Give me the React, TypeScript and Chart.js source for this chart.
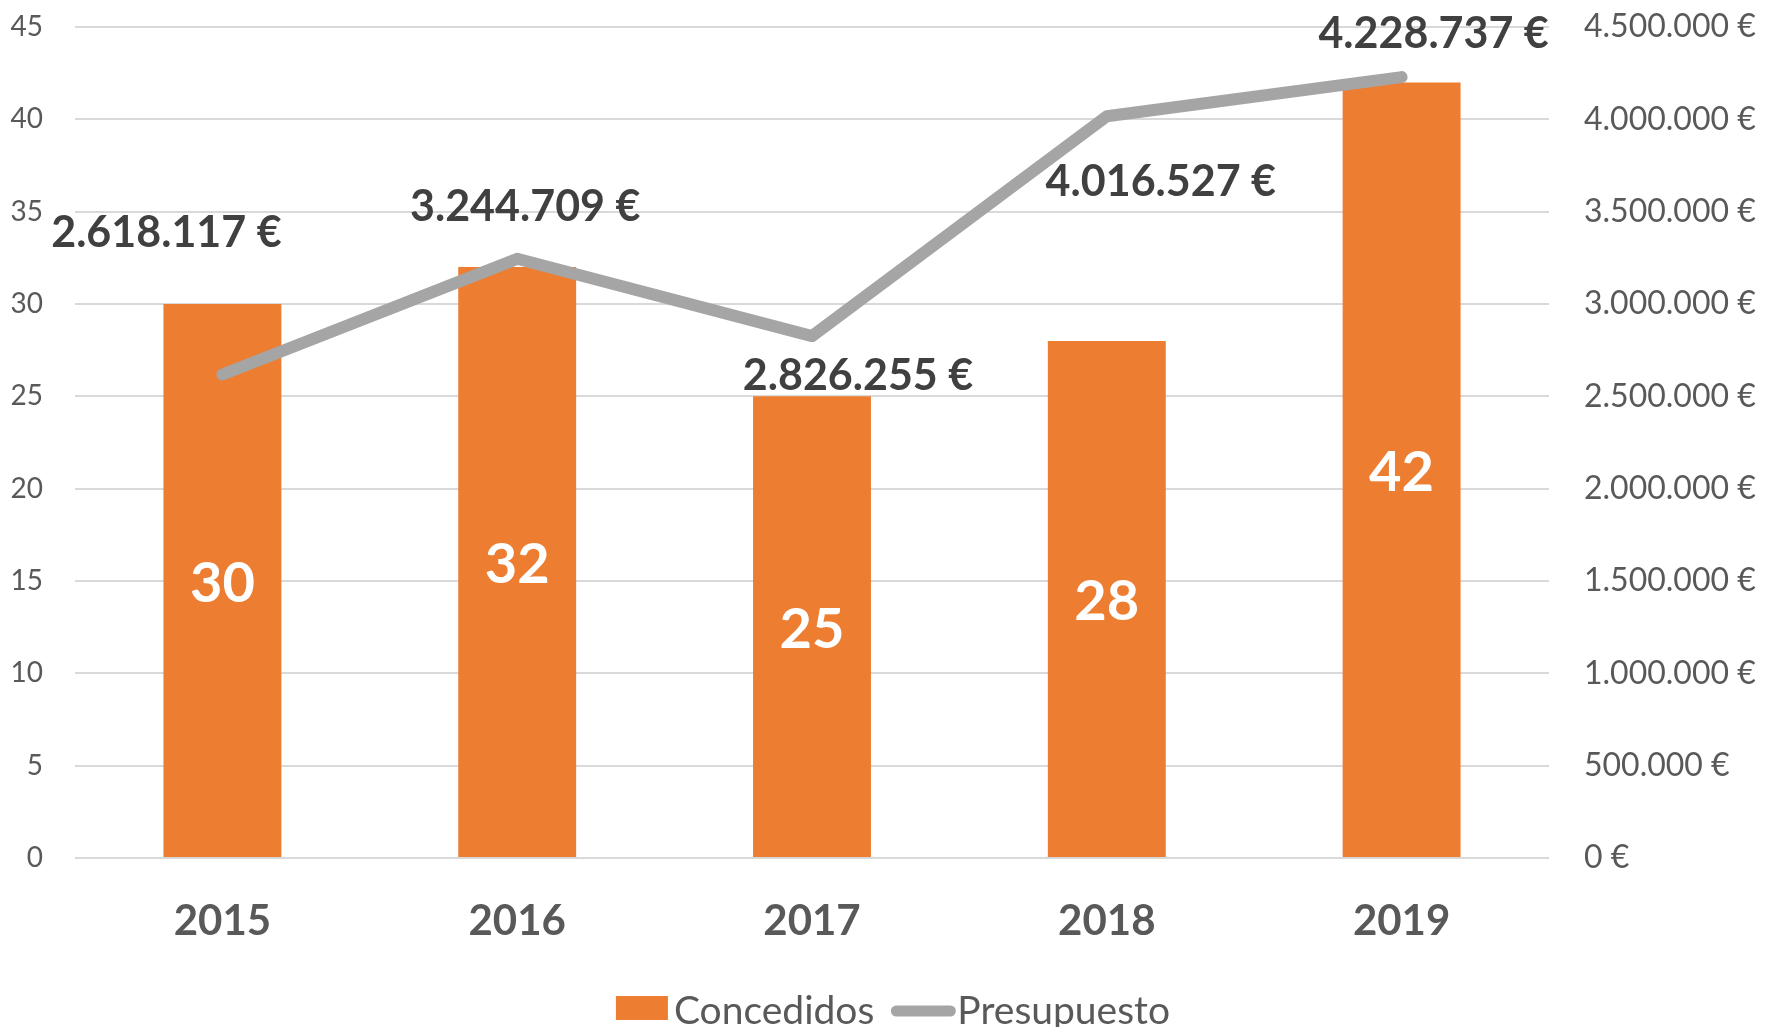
import React, { useEffect, useRef } from "react";
import { Chart, registerables } from "chart.js";

Chart.register(...registerables);

// ---- data ----
const years: string[] = ["2015", "2016", "2017", "2018", "2019"];
const concedidos: number[] = [30, 32, 25, 28, 42];
const presupuesto: number[] = [2618117, 3244709, 2826255, 4016527, 4228737];
const seriesNames: string[] = ["Concedidos", "Presupuesto"];
const leftAxisMax = 45;
const leftAxisStep = 5;
const rightAxisMax = 4500000;
const rightAxisStep = 500000;

// ---- styling ----
const ORANGE = "#ED7D31";
const GRAY = "#A5A5A5";
const TICK_COLOR = "#595959";
const LABEL_COLOR = "#404040";
const GRID_COLOR = "#D9D9D9";
const FONT = "Lato, 'Open Sans', sans-serif";
// label offsets (px) from each line point to the centre of its label
const lineLabelOffsets: [number, number][] = [
  [-56, -143],
  [8, -53],
  [46, 38],
  [54, 64],
  [32, -45],
];

const euro = (n: number): string =>
  Math.round(n).toString().replace(/\B(?=(\d{3})+(?!\d))/g, ".") + " €";

const labelsPlugin = {
  id: "valueLabels",
  afterDatasetsDraw(chart: any) {
    const ctx = chart.ctx as CanvasRenderingContext2D;
    ctx.save();
    // bar labels
    const barMeta = chart.getDatasetMeta(1);
    ctx.font = `bold 56px ${FONT}`;
    ctx.fillStyle = "#FFFFFF";
    ctx.textAlign = "center";
    ctx.textBaseline = "alphabetic";
    barMeta.data.forEach((el: any, i: number) => {
      const cy = (el.y + el.base) / 2;
      ctx.fillText(String(concedidos[i]), el.x, cy + 0.36 * 56 + 1);
    });
    // line labels
    const lineMeta = chart.getDatasetMeta(0);
    ctx.font = `bold 43px ${FONT}`;
    ctx.fillStyle = LABEL_COLOR;
    lineMeta.data.forEach((el: any, i: number) => {
      const [dx, dy] = lineLabelOffsets[i];
      ctx.fillText(euro(presupuesto[i]), el.x + dx, el.y + dy + 0.36 * 43);
    });
    ctx.restore();
  },
};

const legendPlugin = {
  id: "customLegend",
  afterDraw(chart: any) {
    const ctx = chart.ctx as CanvasRenderingContext2D;
    ctx.save();
    const fs = 39;
    ctx.font = `${fs}px ${FONT}`;
    const w1 = ctx.measureText(seriesNames[0]).width;
    const w2 = ctx.measureText(seriesNames[1]).width;
    const boxW = 52, boxH = 24, gap1 = 6, gap2 = 17, lineW = 64, gap3 = 2;
    const total = boxW + gap1 + w1 + gap2 + lineW + gap3 + w2;
    const cy = chart.height - 17;
    let x = chart.width / 2 + 9 - total / 2;
    ctx.fillStyle = ORANGE;
    ctx.fillRect(x, cy - boxH / 2 - 2, boxW, boxH);
    x += boxW + gap1;
    ctx.fillStyle = TICK_COLOR;
    ctx.textAlign = "left";
    ctx.textBaseline = "alphabetic";
    ctx.fillText(seriesNames[0], x, cy + 0.36 * fs);
    x += w1 + gap2;
    ctx.strokeStyle = GRAY;
    ctx.lineWidth = 11;
    ctx.lineCap = "round";
    ctx.beginPath();
    ctx.moveTo(x + 5, cy + 1);
    ctx.lineTo(x + lineW - 5, cy + 1);
    ctx.stroke();
    x += lineW + gap3;
    ctx.fillText(seriesNames[1], x, cy + 0.36 * fs);
    ctx.restore();
  },
};

export default function App() {
  const canvasRef = useRef<HTMLCanvasElement | null>(null);

  useEffect(() => {
    if (!canvasRef.current) return;
    const chart = new Chart(canvasRef.current, {
      type: "bar",
      data: {
        labels: years,
        datasets: [
          {
            type: "line",
            label: seriesNames[1],
            data: presupuesto,
            yAxisID: "y1",
            borderColor: GRAY,
            backgroundColor: GRAY,
            borderWidth: 12,
            borderCapStyle: "round",
            borderJoinStyle: "round",
            pointRadius: 0,
            pointHoverRadius: 0,
            tension: 0,
            order: 0,
          } as any,
          {
            type: "bar",
            label: seriesNames[0],
            data: concedidos,
            yAxisID: "y",
            backgroundColor: ORANGE,
            borderWidth: 0,
            categoryPercentage: 1,
            barPercentage: 0.4,
            order: 1,
          } as any,
        ],
      },
      options: {
        animation: false,
        responsive: false,
        maintainAspectRatio: false,
        devicePixelRatio: 1,
        layout: { padding: { top: 27, left: 0, right: 0, bottom: 0 } },
        plugins: {
          legend: { display: false },
          tooltip: { enabled: false },
          title: { display: false },
        },
        scales: {
          x: {
            type: "category",
            offset: true,
            grid: { display: false, drawTicks: false },
            border: { display: false },
            ticks: {
              color: TICK_COLOR,
              font: { family: FONT, size: 42, weight: "bold" },
              padding: 38,
              maxRotation: 0,
              autoSkip: false,
            },
            afterFit: (scale: any) => {
              scale.height = 169;
            },
          },
          y: {
            type: "linear",
            position: "left",
            min: 0,
            max: leftAxisMax,
            grid: { color: GRID_COLOR, lineWidth: 2, drawTicks: false },
            border: { display: false },
            ticks: {
              stepSize: leftAxisStep,
              color: TICK_COLOR,
              font: { family: FONT, size: 28 },
              padding: 32,
            },
            afterFit: (scale: any) => {
              scale.width = 75;
              scale.paddingTop = 0;
              scale.paddingBottom = 0;
            },
          },
          y1: {
            type: "linear",
            position: "right",
            min: 0,
            max: rightAxisMax,
            grid: { display: false, drawOnChartArea: false, drawTicks: false },
            border: { display: false },
            ticks: {
              stepSize: rightAxisStep,
              color: TICK_COLOR,
              font: { family: FONT, size: 32 },
              padding: 35,
              callback: (v: any) => euro(Number(v)),
            },
            afterFit: (scale: any) => {
              scale.width = 219;
              scale.paddingTop = 0;
              scale.paddingBottom = 0;
            },
          },
        },
      } as any,
      plugins: [labelsPlugin, legendPlugin],
    });
    return () => chart.destroy();
  }, []);

  return (
    <div style={{ position: "fixed", left: 0, top: 0, width: 1768, height: 1027, background: "#fff" }}>
      <canvas ref={canvasRef} width={1768} height={1027} style={{ display: "block" }} />
    </div>
  );
}
